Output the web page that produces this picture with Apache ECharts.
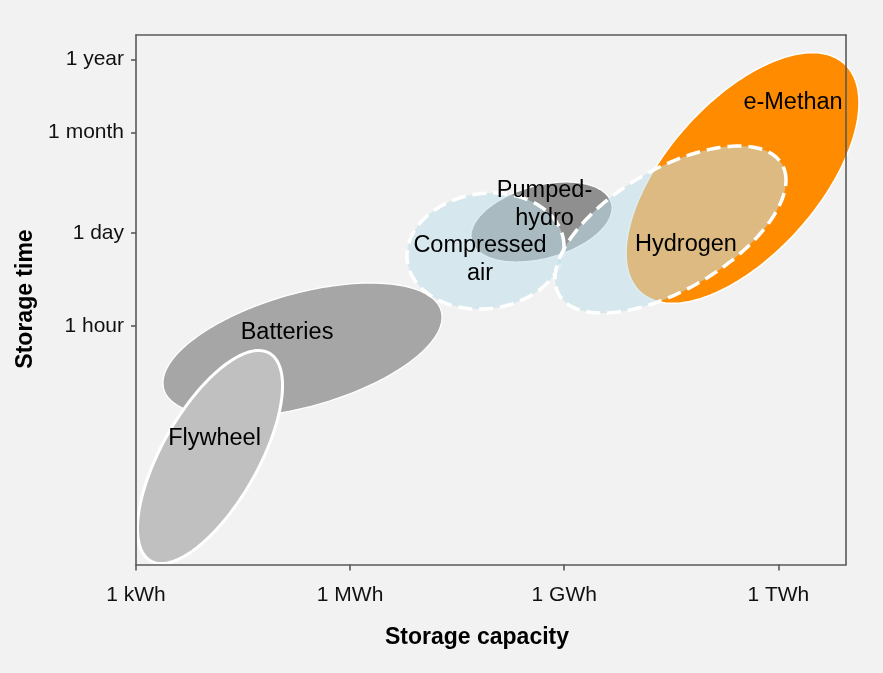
<!DOCTYPE html>
<html>
<head>
<meta charset="utf-8">
<script src="https://cdn.jsdelivr.net/npm/echarts@6/dist/echarts.min.js"></script>
<style>
html,body{margin:0;padding:0;background:#f2f2f2;}
#chart{width:883px;height:673px;}
</style>
</head>
<body>
<div id="chart"></div>
<script>
// ---- Data (log10 units: capacity in kWh, storage time in hours) ----
const technologies = ['Batteries', 'Flywheel', 'Pumped-\nhydro', 'e-Methan', 'Compressed\nair', 'Hydrogen'];
const capacityLow  = [0.378, 0.021, 4.694, 6.866, 3.797, 5.871];
const capacityHigh = [4.288, 2.053, 6.670, 10.130, 5.997, 9.107];
const timeLow      = [-1.342, -3.507, 0.949, 0.339, 0.254, 0.195];
const timeHigh     = [0.638, -0.359, 2.131, 4.041, 1.968, 2.663];
const tilt         = [0.49, 0.67, 0.35, 0.60, 0.08, 0.59];
const labelCapacity = [2.116, 1.100, 5.724, 9.206, 4.820, 7.706];
const labelTime     = [-0.086, -1.659, 1.801, 3.305, 0.988, 1.204];

const xTickKWh    = [1, 1e3, 1e6, 1e9];
const xTickLabels = ['1 kWh', '1 MWh', '1 GWh', '1 TWh'];
const yTickHours  = [1, 24, 730, 8760];
const yTickLabels = ['1 hour', '1 day', '1 month', '1 year'];

// ---- Styles ----
const FONT = '"Liberation Sans", Arial, Helvetica, sans-serif';
const styles = [
  { fill: '#a6a6a6', stroke: '#ffffff', lineWidth: 1.3, lineDash: null },
  { fill: '#c0c0c0', stroke: '#ffffff', lineWidth: 3, lineDash: null },
  { fill: '#8f8f8f', stroke: '#ffffff', lineWidth: 1.2, lineDash: null },
  { fill: '#ff8c00', stroke: '#ffffff', lineWidth: 1.5, lineDash: null },
  { fill: 'rgba(191,224,235,0.55)', stroke: '#ffffff', lineWidth: 3.5, lineDash: [14, 7] },
  { fill: 'rgba(191,224,235,0.55)', stroke: '#ffffff', lineWidth: 3.5, lineDash: [14, 7] }
];

const xTickVals = xTickKWh.map(v => Math.log10(v));
const yTickVals = yTickHours.map(v => Math.log10(v));
function lookup(vals, labels, v) {
  for (let k = 0; k < vals.length; k++) if (Math.abs(vals[k] - v) < 1e-6) return labels[k];
  return '';
}

const seriesData = technologies.map((name, i) => ({
  name: name,
  value: [capacityLow[i], capacityHigh[i], timeLow[i], timeHigh[i], tilt[i], labelCapacity[i], labelTime[i]]
}));

const axisLineStyle = { color: '#595959', width: 1.6 };
const X_MIN = 0, X_MAX = 9.948, Y_MIN = -3.521, Y_MAX = 4.303;

const chart = echarts.init(document.getElementById('chart'), null, { renderer: 'canvas' });
chart.setOption({
  backgroundColor: '#f2f2f2',
  animation: false,
  grid: { left: 136, right: 37, top: 35, bottom: 108.5, containLabel: false, outerBoundsMode: 'none', show: false },
  xAxis: [
    {
      type: 'value', min: X_MIN, max: X_MAX, position: 'bottom', z: 10,
      axisLine: { show: true, onZero: false, lineStyle: axisLineStyle },
      axisTick: { show: true, customValues: xTickVals, length: 6, lineStyle: axisLineStyle },
      axisLabel: { show: true, customValues: xTickVals, formatter: v => lookup(xTickVals, xTickLabels, v),
        margin: 20, fontSize: 21, color: '#111', fontFamily: FONT },
      splitLine: { show: false }
    },
    {
      type: 'value', min: X_MIN, max: X_MAX, position: 'top', z: 10,
      axisLine: { show: true, onZero: false, lineStyle: axisLineStyle },
      axisTick: { show: false }, axisLabel: { show: false }, splitLine: { show: false }
    }
  ],
  yAxis: [
    {
      type: 'value', min: Y_MIN, max: Y_MAX, position: 'left', z: 10,
      axisLine: { show: true, onZero: false, lineStyle: axisLineStyle },
      axisTick: { show: true, customValues: yTickVals, length: 5, lineStyle: axisLineStyle },
      axisLabel: { show: true, customValues: yTickVals, formatter: v => lookup(yTickVals, yTickLabels, v),
        margin: 12, fontSize: 21, color: '#111', fontFamily: FONT },
      splitLine: { show: false }
    },
    {
      type: 'value', min: Y_MIN, max: Y_MAX, position: 'right', z: 10,
      axisLine: { show: true, onZero: false, lineStyle: axisLineStyle },
      axisTick: { show: false }, axisLabel: { show: false }, splitLine: { show: false }
    }
  ],
  graphic: [
    { type: 'text', x: 477, y: 638, z: 20,
      style: { text: 'Storage capacity', fontSize: 23, fontWeight: 'bold', fontFamily: FONT, fill: '#000',
        align: 'center', verticalAlign: 'middle' } },
    { type: 'text', x: 25.3, y: 299, rotation: Math.PI / 2, z: 20,
      style: { text: 'Storage time', fontSize: 23, fontWeight: 'bold', fontFamily: FONT, fill: '#000',
        align: 'center', verticalAlign: 'middle' } }
  ],
  series: [{
    type: 'custom',
    coordinateSystem: 'cartesian2d',
    xAxisIndex: 0, yAxisIndex: 0,
    clip: false,
    encode: { x: [0, 1, 5], y: [2, 3, 6] },
    data: seriesData,
    renderItem: function (params, api) {
      const i = params.dataIndex;
      const x0 = api.value(0), x1 = api.value(1), y0 = api.value(2), y1 = api.value(3), r = api.value(4);
      const cx = (x0 + x1) / 2, W = (x1 - x0) / 2;
      const cy = (y0 + y1) / 2, H = (y1 - y0) / 2;
      const s = Math.sqrt(1 - r * r);
      const pts = [];
      const N = 200;
      for (let k = 0; k < N; k++) {
        const t = 2 * Math.PI * k / N;
        pts.push(api.coord([cx + W * Math.cos(t), cy + H * (r * Math.cos(t) + s * Math.sin(t))]));
      }
      const lp = api.coord([api.value(5), api.value(6)]);
      const st = styles[i];
      return {
        type: 'group',
        children: [
          { type: 'polygon', shape: { points: pts },
            style: { fill: st.fill, stroke: st.stroke, lineWidth: st.lineWidth, lineDash: st.lineDash } },
          { type: 'text', x: lp[0], y: lp[1], z2: 100,
            style: { text: technologies[i], fontSize: 23.5, fontFamily: FONT, fill: '#000',
              align: 'center', verticalAlign: 'middle', lineHeight: 28.4 } }
        ]
      };
    }
  }]
});
</script>
</body>
</html>
